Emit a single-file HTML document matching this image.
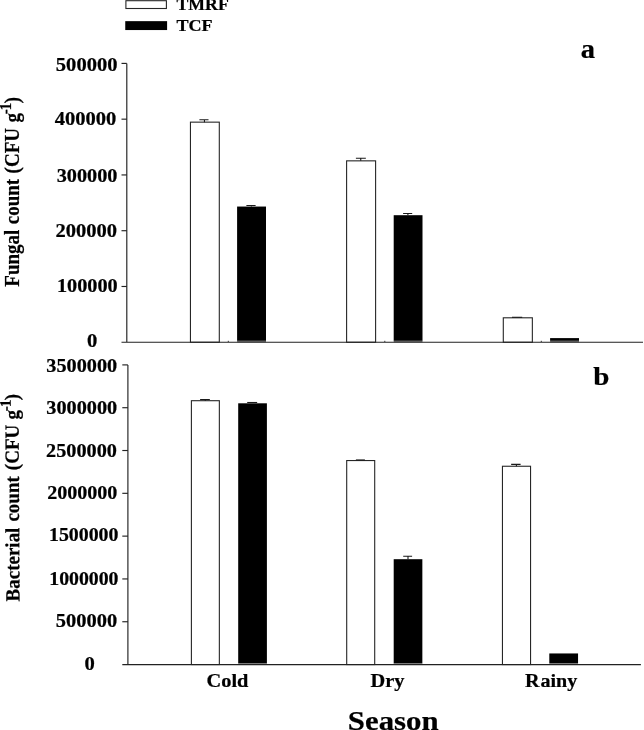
<!DOCTYPE html>
<html><head><meta charset="utf-8"><title>Season chart</title>
<style>
html,body{margin:0;padding:0;background:#fff;}
body{width:644px;height:730px;overflow:hidden;}
svg{display:block;filter:blur(0.4px);}
text{font-family:"Liberation Serif","Times New Roman",serif;font-weight:bold;fill:#000;stroke:#000;stroke-width:0.22px;}
.ax{stroke:#222;stroke-width:1.15;fill:none;}
.wb{fill:#fff;stroke:#262626;stroke-width:1.1;}
.bb{fill:#000;stroke:none;}
.eb{stroke:#1a1a1a;stroke-width:1.1;fill:none;}
</style></head><body>
<svg width="644" height="730" viewBox="0 0 644 730">
<rect x="0" y="0" width="644" height="730" fill="#fff"/>

<rect class="wb" x="125.9" y="0.7" width="40.5" height="7.8"/>
<rect class="bb" x="125.25" y="21.15" width="41.85" height="8.9"/>
<text transform="translate(176.5 9.9) scale(1.09 1)" font-size="16.3" text-anchor="start">TMRF</text>
<text transform="translate(176.5 30.6) scale(1.11 1)" font-size="16.3" text-anchor="start">TCF</text>
<text transform="translate(580.7 58) scale(1.08 1)" font-size="26.4" text-anchor="start">a</text>
<text transform="translate(593.3 384.6) scale(1.14 1)" font-size="25.5" text-anchor="start">b</text>
<rect class="wb" x="190.45" y="122.15" width="28.85" height="220.10"/>
<path class="eb" d="M204.45 122.15V119.70M199.40 119.70H208.50"/>
<rect class="bb" x="237.10" y="206.55" width="28.90" height="134.30"/>
<rect fill="#6a6a6a" x="237.10" y="340.85" width="28.90" height="1.4"/>
<path class="eb" d="M251.45 206.55V205.45M246.40 205.45H255.60"/>
<rect class="wb" x="346.60" y="160.85" width="29.00" height="181.40"/>
<path class="eb" d="M360.75 160.85V158.30M355.90 158.30H365.85"/>
<rect class="bb" x="393.70" y="215.20" width="28.80" height="125.65"/>
<rect fill="#6a6a6a" x="393.70" y="340.85" width="28.80" height="1.4"/>
<path class="eb" d="M407.90 215.20V213.45M403.10 213.45H412.20"/>
<rect class="wb" x="503.30" y="317.80" width="29.05" height="24.45"/>
<path class="eb" d="M512.00 317.30H522.20"/>
<rect class="bb" x="550.10" y="338.10" width="28.90" height="2.75"/>
<rect fill="#6a6a6a" x="550.10" y="340.85" width="28.90" height="1.4"/>
<path class="ax" d="M126.80 63.40V342.25M121.50 342.25H643.00"/>
<path class="ax" d="M121.50 63.40H126.80"/>
<text transform="translate(117.45 70.8) scale(1.09 1)" font-size="18.85" text-anchor="end">500000</text>
<path class="ax" d="M121.50 119.17H126.80"/>
<text transform="translate(116.3 124.6) scale(1.09 1)" font-size="18.85" text-anchor="end">400000</text>
<path class="ax" d="M121.50 174.94H126.80"/>
<text transform="translate(117.4 182.25) scale(1.075 1)" font-size="18.85" text-anchor="end">300000</text>
<path class="ax" d="M121.50 230.71H126.80"/>
<text transform="translate(117.1 236.75) scale(1.09 1)" font-size="18.85" text-anchor="end">200000</text>
<path class="ax" d="M121.50 286.48H126.80"/>
<text transform="translate(117.7 291.8) scale(1.075 1)" font-size="18.85" text-anchor="end">100000</text>
<text transform="translate(97.4 346.6) scale(1.095 1)" font-size="18.85" text-anchor="end">0</text>
<path d="M228.3 340.8V342M384.8 340.8V342M541.3 340.8V342" stroke="#333" stroke-width="1" fill="none"/>
<rect class="wb" x="191.40" y="400.70" width="27.95" height="263.85"/>
<path class="eb" d="M205.30 400.70V399.50M200.10 399.50H209.85"/>
<rect class="bb" x="238.20" y="403.30" width="28.70" height="259.85"/>
<rect fill="#6a6a6a" x="238.20" y="663.15" width="28.70" height="1.4"/>
<path class="eb" d="M247.20 402.50H257.15"/>
<rect class="wb" x="346.70" y="460.55" width="28.00" height="204.00"/>
<path class="eb" d="M355.90 459.95H364.90"/>
<rect class="bb" x="393.70" y="559.20" width="28.65" height="103.95"/>
<rect fill="#6a6a6a" x="393.70" y="663.15" width="28.65" height="1.4"/>
<path class="eb" d="M408.00 559.20V556.25M403.20 556.25H412.10"/>
<rect class="wb" x="502.45" y="466.25" width="28.10" height="198.30"/>
<path class="eb" d="M516.40 466.25V464.40M511.15 464.40H520.60"/>
<rect class="bb" x="549.30" y="653.45" width="28.75" height="9.70"/>
<rect fill="#6a6a6a" x="549.30" y="663.15" width="28.75" height="1.4"/>
<path class="ax" d="M127.90 364.90V664.55M122.30 664.55H640.90"/>
<path class="ax" d="M122.30 364.90H127.90"/>
<text transform="translate(117.2 371.9) scale(1.075 1)" font-size="18.85" text-anchor="end">3500000</text>
<path class="ax" d="M122.30 407.71H127.90"/>
<text transform="translate(117.2 413.75) scale(1.075 1)" font-size="18.85" text-anchor="end">3000000</text>
<path class="ax" d="M122.30 450.51H127.90"/>
<text transform="translate(116.9 456.75) scale(1.075 1)" font-size="18.85" text-anchor="end">2500000</text>
<path class="ax" d="M122.30 493.32H127.90"/>
<text transform="translate(117.4 498.85) scale(1.065 1)" font-size="18.85" text-anchor="end">2000000</text>
<path class="ax" d="M122.30 536.13H127.90"/>
<text transform="translate(118.5 541.3) scale(1.055 1)" font-size="18.85" text-anchor="end">1500000</text>
<path class="ax" d="M122.30 578.94H127.90"/>
<text transform="translate(118.5 584.9) scale(1.05 1)" font-size="18.85" text-anchor="end">1000000</text>
<path class="ax" d="M122.30 621.74H127.90"/>
<text transform="translate(117.1 626.7) scale(1.085 1)" font-size="18.85" text-anchor="end">500000</text>
<text transform="translate(94.9 669.7) scale(1.095 1)" font-size="18.85" text-anchor="end">0</text>
<text transform="translate(227.5 686.8) scale(1.08 1)" font-size="18.85" text-anchor="middle">Cold</text>
<text transform="translate(387.4 687) scale(1.08 1)" font-size="18.85" text-anchor="middle">Dry</text>
<text transform="translate(551.1 686.8) scale(1.065 1)" font-size="18.85" text-anchor="middle">R<tspan dx="0.9">ainy</tspan></text>
<text transform="translate(393.2 729.7) scale(1.089 1)" font-size="28.3" text-anchor="middle">Season</text>
<text transform="translate(18.9 286.7) rotate(-90) scale(1 1.06)" font-size="19" word-spacing="0.75">Fungal count (CFU g<tspan font-size="15" dy="-7.4" dx="-1.3">-</tspan><tspan font-size="15" dx="-0.8">1</tspan><tspan dy="7.4" dx="-0.6">)</tspan></text>
<text transform="translate(19.5 601.4) rotate(-90.29) scale(1 1.06)" font-size="19" word-spacing="1.3">Bacterial count (CFU <tspan dx="-0.7">g</tspan><tspan font-size="15" dy="-7.4" dx="-1.3">-</tspan><tspan font-size="15" dx="-0.8">1</tspan><tspan dy="7.4" dx="-0.6">)</tspan></text>
</svg></body></html>
